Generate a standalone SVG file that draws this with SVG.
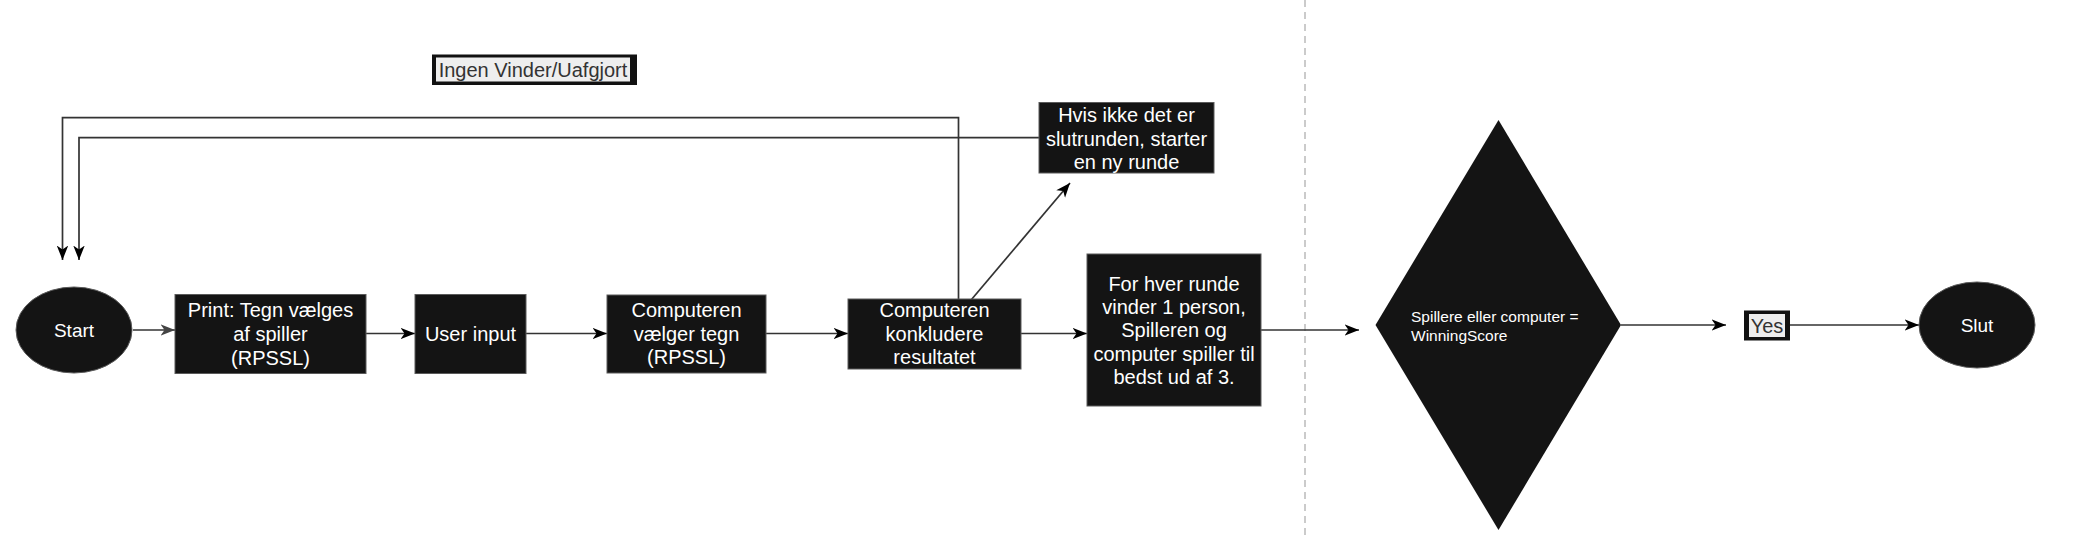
<svg xmlns="http://www.w3.org/2000/svg" width="2084" height="540" viewBox="0 0 2084 540">
<style>
.node{fill:#141414;stroke:#5a5a5a;stroke-width:1}
.t{font-family:"Liberation Sans",Arial,Helvetica,sans-serif;font-size:20px;fill:#ffffff;text-anchor:middle}
.ts{font-family:"Liberation Sans",Arial,Helvetica,sans-serif;font-size:15.5px;fill:#ffffff}
.lbl{font-family:"Liberation Sans",Arial,Helvetica,sans-serif;font-size:20px;fill:#333333;text-anchor:middle}
.c{fill:none;stroke:#333333;stroke-width:1.7}
</style>
<defs>
<marker id="ah" markerUnits="userSpaceOnUse" markerWidth="16" markerHeight="13" refX="14.5" refY="5.75" orient="auto" viewBox="0 0 16 11.5">
<path d="M0,0 L14.5,5.75 L0,11.5 L4,5.75 Z" fill="#000000"/>
</marker>
<marker id="ahg" markerUnits="userSpaceOnUse" markerWidth="16" markerHeight="13" refX="14.5" refY="5.75" orient="auto" viewBox="0 0 16 11.5">
<path d="M0,0 L14.5,5.75 L0,11.5 L4,5.75 Z" fill="#444444"/>
</marker>
</defs>
<rect width="2084" height="540" fill="#ffffff"/>
<line x1="1305" y1="0" x2="1305" y2="540" stroke="#bbbbbb" stroke-width="1.5" stroke-dasharray="7 5"/>
<g id="connectors">
<line class="c" x1="133" y1="330" x2="175" y2="330" stroke="#444444" marker-end="url(#ahg)"/>
<line class="c" x1="366" y1="333.5" x2="415" y2="333.5" marker-end="url(#ah)"/>
<line class="c" x1="526" y1="333.5" x2="607" y2="333.5" marker-end="url(#ah)"/>
<line class="c" x1="766" y1="333.5" x2="848" y2="333.5" marker-end="url(#ah)"/>
<line class="c" x1="1021" y1="333.5" x2="1087" y2="333.5" marker-end="url(#ah)"/>
<line class="c" x1="1261" y1="330" x2="1359" y2="330" marker-end="url(#ah)"/>
<line class="c" x1="1621" y1="325" x2="1726" y2="325" marker-end="url(#ah)"/>
<line class="c" x1="1790" y1="325" x2="1919" y2="325" marker-end="url(#ah)"/>
<path class="c" d="M958.5,299 V117.7 H62.5 V260" marker-end="url(#ah)"/>
<path class="c" d="M1039,137.7 H79 V260" marker-end="url(#ah)"/>
<line class="c" x1="966" y1="306" x2="1070" y2="183" stroke="#111111" stroke-width="1.4" marker-end="url(#ah)"/>
</g>
<g id="label-ingen">
<rect x="432" y="54.5" width="205" height="30.5" fill="#111111"/>
<rect x="436" y="57.5" width="194" height="24" fill="#eeeeee"/>
<text class="lbl" x="533" y="76.5">Ingen Vinder/Uafgjort</text>
</g>
<g id="node-start">
<ellipse class="node" cx="74" cy="330" rx="58" ry="43"/>
<text class="t" x="74" y="337" style="font-size:19px">Start</text>
</g>
<g id="node-print">
<rect class="node" x="175" y="294.5" width="191" height="79"/>
<text class="t" x="270.5" y="317">Print: Tegn vælges</text>
<text class="t" x="270.5" y="341">af spiller</text>
<text class="t" x="270.5" y="365">(RPSSL)</text>
</g>
<g id="node-userinput">
<rect class="node" x="415" y="294.5" width="111" height="79"/>
<text class="t" x="470.5" y="341">User input</text>
</g>
<g id="node-vaelger">
<rect class="node" x="607" y="295" width="159" height="78"/>
<text class="t" x="686.5" y="317">Computeren</text>
<text class="t" x="686.5" y="340.5">vælger tegn</text>
<text class="t" x="686.5" y="364">(RPSSL)</text>
</g>
<g id="node-konkludere">
<rect class="node" x="848" y="299" width="173" height="70"/>
<text class="t" x="934.5" y="317">Computeren</text>
<text class="t" x="934.5" y="340.5">konkludere</text>
<text class="t" x="934.5" y="364">resultatet</text>
</g>
<g id="node-hvis">
<rect class="node" x="1039" y="102.5" width="175" height="70.5"/>
<text class="t" x="1126.5" y="122">Hvis ikke det er</text>
<text class="t" x="1126.5" y="145.5">slutrunden, starter</text>
<text class="t" x="1126.5" y="169">en ny runde</text>
</g>
<g id="node-forhver">
<rect class="node" x="1087" y="254" width="174" height="152"/>
<text class="t" x="1174" y="290.5">For hver runde</text>
<text class="t" x="1174" y="314">vinder 1 person,</text>
<text class="t" x="1174" y="337">Spilleren og</text>
<text class="t" x="1174" y="360.5">computer spiller til</text>
<text class="t" x="1174" y="384">bedst ud af 3.</text>
</g>
<g id="node-diamond">
<polygon points="1498.5,120 1621,325 1498.5,530 1375.5,325" fill="#141414"/>
<text class="ts" x="1411" y="321.5">Spillere eller computer =</text>
<text class="ts" x="1411" y="340.5">WinningScore</text>
</g>
<g id="label-yes">
<rect x="1744" y="310.5" width="46" height="30" fill="#111111"/>
<rect x="1749" y="314" width="36" height="23" fill="#eeeeee"/>
<text class="lbl" x="1767" y="332.5">Yes</text>
</g>
<g id="node-slut">
<ellipse class="node" cx="1977" cy="325" rx="58" ry="43"/>
<text class="t" x="1977" y="332" style="font-size:19px">Slut</text>
</g>
</svg>
